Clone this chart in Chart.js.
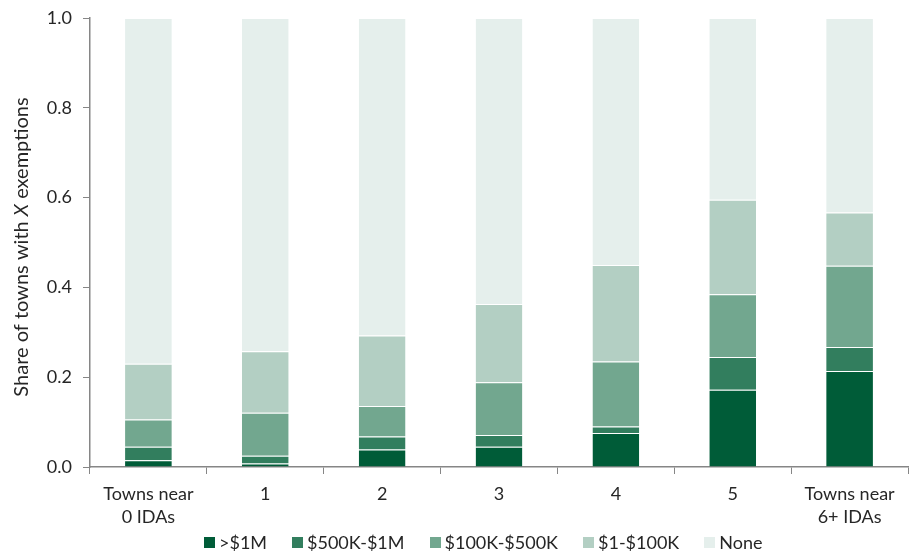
<!DOCTYPE html>
<html>
<head>
<meta charset="utf-8">
<script src="https://cdn.jsdelivr.net/npm/chart.js"></script>
<style>
  html, body { margin: 0; padding: 0; background: #fff; }
  #wrap { position: relative; width: 915px; height: 554px; }
  #legend {
    position: absolute; left: 204px; top: 531px; line-height: 22px;
    display: flex; font-family: Lato, sans-serif; font-size: 18px; color: #262626;
  }
  #legend .item { display: flex; align-items: center; margin-right: 25px; }
  #legend .box { width: 11px; height: 11px; margin-right: 4px; }
</style>
</head>
<body>
<div id="wrap">
  <canvas id="myChart"></canvas>
  <div id="legend"></div>
</div>
<script>
const categories = [['Towns near', '0 IDAs'], '1', '2', '3', '4', '5', ['Towns near', '6+ IDAs']];
const seriesNames = ['>$1M', '$500K-$1M', '$100K-$500K', '$1-$100K', 'None'];
const over1M = [0.015, 0.008, 0.039, 0.045, 0.076, 0.172, 0.214];
const from500K = [0.030, 0.017, 0.029, 0.026, 0.014, 0.073, 0.053];
const from100K = [0.061, 0.096, 0.068, 0.118, 0.145, 0.140, 0.181];
const from1 = [0.124, 0.137, 0.157, 0.174, 0.215, 0.210, 0.119];
const none = [0.770, 0.742, 0.707, 0.637, 0.550, 0.405, 0.433];
const yTicks = [0, 0.2, 0.4, 0.6, 0.8, 1.0];
const colors = ['#005C38', '#327E5E', '#72A78F', '#B3CFC3', '#E5EFEC'];

const seriesValues = [over1M, from500K, from100K, from1, none];
const font = { family: 'Lato, sans-serif', size: 18, lineHeight: 1.3 };
const axisGrey = '#868686';

// y axis title with italic X, drawn rotated
const yTitle = {
    id: 'yTitle',
    afterDraw(chart) {
        const c = chart.ctx;
        const parts = [['Share of towns with ', 'normal'], ['X', 'italic'], [' exemptions', 'normal']];
        let total = 0;
        parts.forEach(p => {
            c.font = p[1] + ' 20px Lato, sans-serif';
            total += c.measureText(p[0]).width;
        });
        c.save();
        c.translate(22, 247);
        c.rotate(-Math.PI / 2);
        c.fillStyle = '#262626';
        c.textBaseline = 'middle';
        let x = -total / 2;
        parts.forEach(p => {
            c.font = p[1] + ' 20px Lato, sans-serif';
            c.fillText(p[0], x, 0);
            x += c.measureText(p[0]).width;
        });
        c.restore();
    }
};

const myChart = new Chart(document.getElementById('myChart'), {
    type: 'bar',
    data: {
        labels: categories,
        datasets: seriesNames.map((name, i) => ({
            label: name,
            data: seriesValues[i],
            backgroundColor: colors[i],
            borderColor: 'rgba(255,255,255,0.35)',
            borderWidth: { top: 1, left: 0, right: 0, bottom: 0 },
            borderSkipped: false,
            categoryPercentage: 1,
            barPercentage: 0.4
        }))
    },
    options: {
        responsive: true,
        maintainAspectRatio: false,
        animation: false,
        layout: { padding: { left: 0, right: 7, top: 0, bottom: 27 } },
        plugins: {
            legend: { display: false },
            tooltip: { enabled: false }
        },
        scales: {
            x: {
                stacked: true,
                grid: { drawOnChartArea: false, color: axisGrey, tickLength: 7, offset: true },
                border: { color: axisGrey, width: 1.5 },
                ticks: { color: '#262626', font: font, padding: 8, maxRotation: 0 },
                afterFit: (scale) => { scale.height = 60; }
            },
            y: {
                stacked: true,
                min: 0,
                max: 1,
                afterBuildTicks: (scale) => { scale.ticks = yTicks.map(v => ({ value: v })); },
                grid: { drawOnChartArea: false, color: axisGrey, tickLength: 7 },
                border: { color: axisGrey, width: 1.5 },
                ticks: {
                    color: '#262626', font: { family: 'Lato, sans-serif', size: 18 }, padding: 11,
                    callback: (value) => value.toFixed(1)
                },
                afterFit: (scale) => { scale.width = 90; scale.paddingTop = 18; }
            }
        }
    },
    plugins: [yTitle]
});

// legend built from the same arrays
const legend = document.getElementById('legend');
seriesNames.forEach((name, i) => {
    const item = document.createElement('div');
    item.className = 'item';
    item.innerHTML = '<span class="box" style="background:' + colors[i] + '"></span><span></span>';
    item.lastChild.textContent = name;
    legend.appendChild(item);
});
</script>
</body>
</html>
